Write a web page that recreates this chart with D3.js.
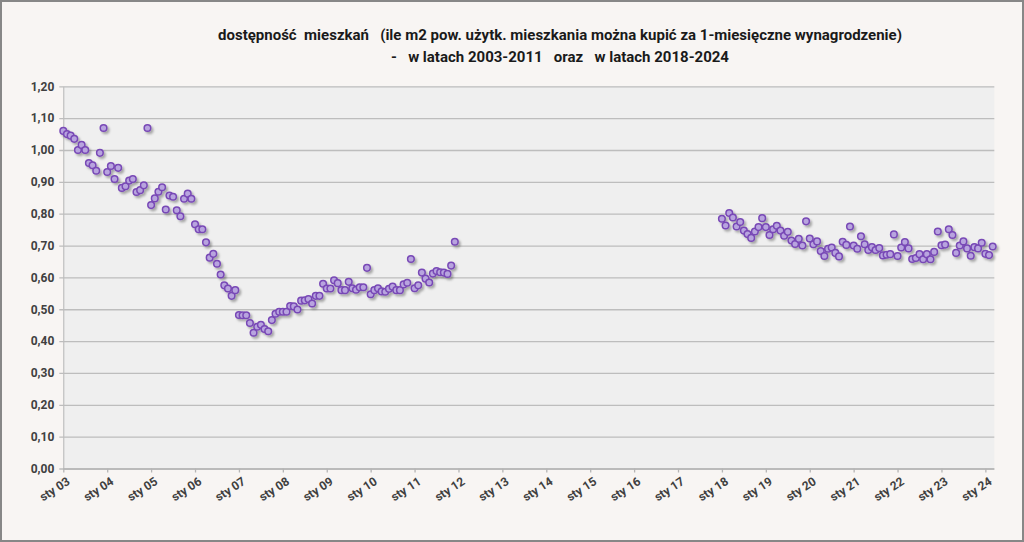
<!DOCTYPE html>
<html>
<head>
<meta charset="utf-8">
<script src="https://cdn.jsdelivr.net/npm/d3@7"></script>
<style>
  body { margin: 0; background: #fff; }
  svg { display: block; }
</style>
</head>
<body>
<div id="chart"></div>
<script>
// chart data: monthly values, two separate periods
var firstYear = 2003, lastYear = 2024, lastMonth = 3;   // axis runs sty 03 .. mar 24
var start1 = {year: 2003, month: 1};
var values1 = [1.06, 1.05, 1.045, 1.035, 1.00, 1.016, 1.00, 0.959, 0.952, 0.935, 0.991, 1.069,
  0.931, 0.95, 0.909, 0.944, 0.881, 0.886, 0.904, 0.909, 0.868, 0.874, 0.889, 1.069,
  0.827, 0.848, 0.869, 0.883, 0.813, 0.857, 0.853, 0.811, 0.792, 0.847, 0.863, 0.847,
  0.767, 0.751, 0.751, 0.71, 0.662, 0.674, 0.643, 0.609, 0.575, 0.565, 0.542, 0.56,
  0.482, 0.481, 0.481, 0.457, 0.426, 0.445, 0.451, 0.438, 0.431, 0.466, 0.486, 0.492,
  0.492, 0.492, 0.51, 0.509, 0.499, 0.527, 0.528, 0.532, 0.518, 0.542, 0.542, 0.58,
  0.565, 0.565, 0.591, 0.582, 0.56, 0.56, 0.586, 0.566, 0.561, 0.569, 0.569, 0.63,
  0.547, 0.56, 0.566, 0.556, 0.555, 0.564, 0.571, 0.56, 0.56, 0.578, 0.583, 0.658,
  0.566, 0.575, 0.615, 0.596, 0.584, 0.612, 0.62, 0.616, 0.615, 0.611, 0.637, 0.712];
var start2 = {year: 2018, month: 1};
var values2 = [0.784, 0.763, 0.802, 0.788, 0.76, 0.774, 0.747, 0.736, 0.724, 0.744, 0.758, 0.786,
  0.758, 0.733, 0.751, 0.762, 0.747, 0.731, 0.743, 0.716, 0.705, 0.721, 0.70, 0.776,
  0.722, 0.704, 0.713, 0.683, 0.667, 0.69, 0.694, 0.677, 0.666, 0.712, 0.702, 0.76,
  0.70, 0.69, 0.729, 0.704, 0.686, 0.695, 0.686, 0.692, 0.669, 0.671, 0.673, 0.735,
  0.667, 0.694, 0.711, 0.691, 0.658, 0.661, 0.673, 0.657, 0.673, 0.657, 0.68, 0.744,
  0.701, 0.703, 0.751, 0.733, 0.677, 0.70, 0.713, 0.691, 0.668, 0.695, 0.691, 0.709,
  0.674, 0.67, 0.697];
var tickLabels = ["sty 03", "sty 04", "sty 05", "sty 06", "sty 07", "sty 08", "sty 09", "sty 10",
  "sty 11", "sty 12", "sty 13", "sty 14", "sty 15", "sty 16", "sty 17", "sty 18", "sty 19",
  "sty 20", "sty 21", "sty 22", "sty 23", "sty 24"];
var yTicks = [0, 0.1, 0.2, 0.3, 0.4, 0.5, 0.6, 0.7, 0.8, 0.9, 1.0, 1.1, 1.2];
var titleLines = ["dostępność  mieszkań   (ile m2 pow. użytk. mieszkania można kupić za 1-miesięczne wynagrodzenie)",
  "-   w latach 2003-2011   oraz   w latach 2018-2024"];

var width = 1024, height = 542;
var plot = {left: 63.3, right: 994.3, top: 86.3, bottom: 468.5};
var font = "'Liberation Sans Narrow', 'Arial Narrow', Roboto, sans-serif";

// month categories
var categories = [];
for (var y = firstYear; y <= lastYear; y++) {
  for (var m = 1; m <= 12; m++) {
    if (y == lastYear && m > lastMonth) break;
    categories.push(y + "-" + (m < 10 ? "0" + m : m));
  }
}
function toPoints(start, vals) {
  return vals.map(function (v, i) {
    var mm = start.month - 1 + i;
    var y = start.year + Math.floor(mm / 12), m = mm % 12 + 1;
    return {cat: y + "-" + (m < 10 ? "0" + m : m), value: v};
  });
}
var points = toPoints(start1, values1).concat(toPoints(start2, values2));

var x = d3.scalePoint()
  .domain(categories)
  .range([plot.left, plot.left + (categories.length - 1) * 3.659]);
var yScale = d3.scaleLinear().domain([0, 1.2]).range([plot.bottom, plot.top]);
var plLocale = d3.formatLocale({decimal: ",", thousands: " ", grouping: [3], currency: ["", " zł"]});
var fmt = plLocale.format(".2f");

var svg = d3.select("#chart").append("svg")
  .attr("width", width)
  .attr("height", height);

var defs = svg.append("defs");
var shadow = defs.append("filter").attr("id", "shadow")
  .attr("x", "-50%").attr("y", "-50%").attr("width", "200%").attr("height", "200%");
shadow.append("feDropShadow")
  .attr("dx", 2).attr("dy", 2.2).attr("stdDeviation", 1)
  .attr("flood-color", "#000").attr("flood-opacity", 0.3);

// outer background + frame
svg.append("rect")
  .attr("x", 1).attr("y", 1)
  .attr("width", width - 2).attr("height", height - 2)
  .attr("fill", "#f8f5f3")
  .attr("stroke", "#878787")
  .attr("stroke-width", 2);

// plot area
svg.append("rect")
  .attr("x", plot.left).attr("y", plot.top)
  .attr("width", plot.right - plot.left).attr("height", plot.bottom - plot.top)
  .attr("fill", "#efefef");

// gridlines + y axis
var yAxis = svg.append("g")
  .attr("transform", "translate(" + plot.left + ",0)")
  .call(d3.axisLeft(yScale)
    .tickValues(yTicks)
    .tickSize(-(plot.right - plot.left))
    .tickSizeOuter(0)
    .tickPadding(9)
    .tickFormat(fmt));
yAxis.select(".domain").attr("stroke", "#b5b5b5");
yAxis.selectAll(".tick line")
  .attr("stroke", "#bdbdbd")
  .attr("stroke-width", 1.3)
  .attr("x1", -4);
yAxis.selectAll(".tick text")
  .attr("fill", "#404040")
  .attr("font-family", font)
  .attr("font-size", 12)
  .attr("font-weight", "bold");

// x axis
var janCats = categories.filter(function (c) { return c.slice(5) == "01"; });
var xAxis = svg.append("g")
  .attr("transform", "translate(0," + plot.bottom + ")")
  .call(d3.axisBottom(x)
    .tickValues(janCats)
    .tickSize(4)
    .tickSizeOuter(0)
    .tickFormat(function (d, i) { return tickLabels[i]; }));
xAxis.select(".domain").attr("stroke", "#b5b5b5").attr("stroke-width", 1.3)
  .attr("d", "M" + plot.left + ",0.5H" + plot.right);
xAxis.selectAll(".tick line").attr("stroke", "#b5b5b5").attr("stroke-width", 1.3);
xAxis.selectAll(".tick text")
  .attr("fill", "#404040")
  .attr("font-family", font)
  .attr("font-size", 12)
  .attr("font-weight", "bold")
  .attr("text-anchor", "end")
  .attr("y", 0).attr("dy", "0.9em")
  .attr("transform", "translate(1,6) rotate(-33)");

// markers
svg.append("g")
  .attr("filter", "url(#shadow)")
  .selectAll("circle")
  .data(points)
  .enter().append("circle")
  .attr("cx", function (d) { return x(d.cat); })
  .attr("cy", function (d) { return yScale(d.value); })
  .attr("r", 3.3)
  .attr("fill", "#b8a4df")
  .attr("stroke", "#7848b6")
  .attr("stroke-width", 1.5);

// title
svg.append("g").selectAll("text")
  .data(titleLines)
  .enter().append("text")
  .attr("x", 560)
  .attr("y", function (d, i) { return 40 + i * 22; })
  .attr("text-anchor", "middle")
  .attr("font-family", font)
  .attr("font-size", 15)
  .attr("font-weight", "bold")
  .attr("fill", "#1a1a1a")
  .style("white-space", "pre")
  .text(function (d) { return d; });
</script>
</body>
</html>
